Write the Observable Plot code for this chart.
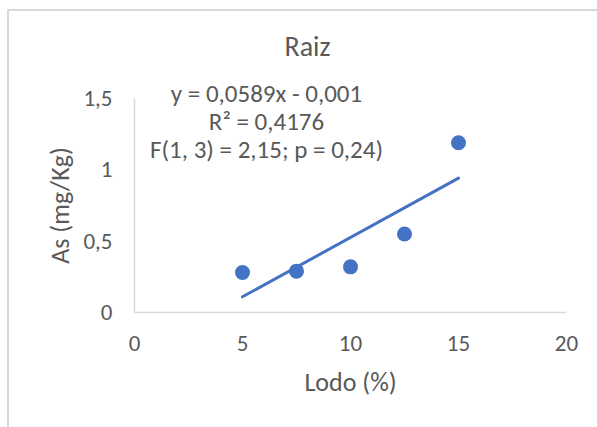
<!DOCTYPE html>
<html>
<head>
<meta charset="utf-8">
<script src="https://cdn.jsdelivr.net/npm/d3@7"></script>
<script src="https://cdn.jsdelivr.net/npm/@observablehq/plot@0.6"></script>
<style>
  html, body { margin: 0; padding: 0; background: #fff; }
  #wrap { position: relative; width: 597px; height: 427px; overflow: hidden; }
  #frame { position: absolute; left: 7px; top: 9px; width: 700px; height: 500px;
           border-top: 2px solid #d9d9d9; border-left: 2px solid #d9d9d9; box-sizing: border-box; }
  #chart { position: absolute; left: 0; top: 0; }
</style>
</head>
<body>
<div id="wrap"><div id="frame"></div><div id="chart"></div></div>
<script>
const lodo = [5, 7.5, 10, 12.5, 15];
const asVals = [0.28, 0.29, 0.32, 0.55, 1.19];
const xTicks = [0, 5, 10, 15, 20];
const yTicks = [0, 0.5, 1, 1.5];
const title = "Raiz";
const xLabel = "Lodo (%)";
const yLabel = "As (mg/Kg)";
const annotation = ["y = 0,0589x - 0,001", "R² = 0,4176", "F(1, 3) = 2,15; p = 0,24)"];

const data = lodo.map((x, i) => ({x, y: asVals[i]}));
const fmt = d => String(d).replace(".", ",");
const font = "Carlito, Calibri, Lato, sans-serif";
const grey = "#595959";
const blue = "#4472C4";

const plot = Plot.plot({
  width: 597,
  height: 427,
  marginLeft: 134,
  marginRight: 31,
  marginTop: 98,
  marginBottom: 115,
  style: {fontFamily: font, fontSize: "23px", color: grey, background: "transparent"},
  x: {domain: [0, 20], ticks: xTicks, tickFormat: fmt},
  y: {domain: [0, 1.5], ticks: yTicks, tickFormat: fmt},
  marks: [
    Plot.ruleY([0], {stroke: "#d9d9d9", strokeWidth: 1.5}),
    Plot.ruleX([0], {stroke: "#d9d9d9", strokeWidth: 1.5}),
    Plot.axisX({ticks: xTicks, tickFormat: fmt, tickSize: 0, tickPadding: 22, label: null, fill: grey, fontSize: 23}),
    Plot.axisY({ticks: yTicks, tickFormat: fmt, tickSize: 0, tickPadding: 22, label: null, fill: grey, fontSize: 23}),
    Plot.linearRegressionY(data, {x: "x", y: "y", stroke: blue, strokeWidth: 3, ci: 0, strokeLinecap: "round"}),
    Plot.dot(data, {x: "x", y: "y", r: 7.5, fill: blue, stroke: null}),
    Plot.text([title], {text: d => d, frameAnchor: "top", dx: -43, dy: -51, lineAnchor: "middle", fontSize: 28, fill: grey}),
    Plot.text([annotation.join("\n")], {text: d => d, frameAnchor: "top", dx: -84, dy: -16, lineAnchor: "top", lineHeight: 1.12, fontSize: 25, fill: grey}),
    Plot.text([xLabel], {text: d => d, frameAnchor: "bottom", dy: 70, lineAnchor: "middle", fontSize: 26, fill: grey}),
    Plot.text([yLabel], {text: d => d, frameAnchor: "left", dx: -74, rotate: -90, textAnchor: "middle", lineAnchor: "middle", fontSize: 26, fill: grey})
  ]
});
document.getElementById("chart").appendChild(plot);
</script>
</body>
</html>
